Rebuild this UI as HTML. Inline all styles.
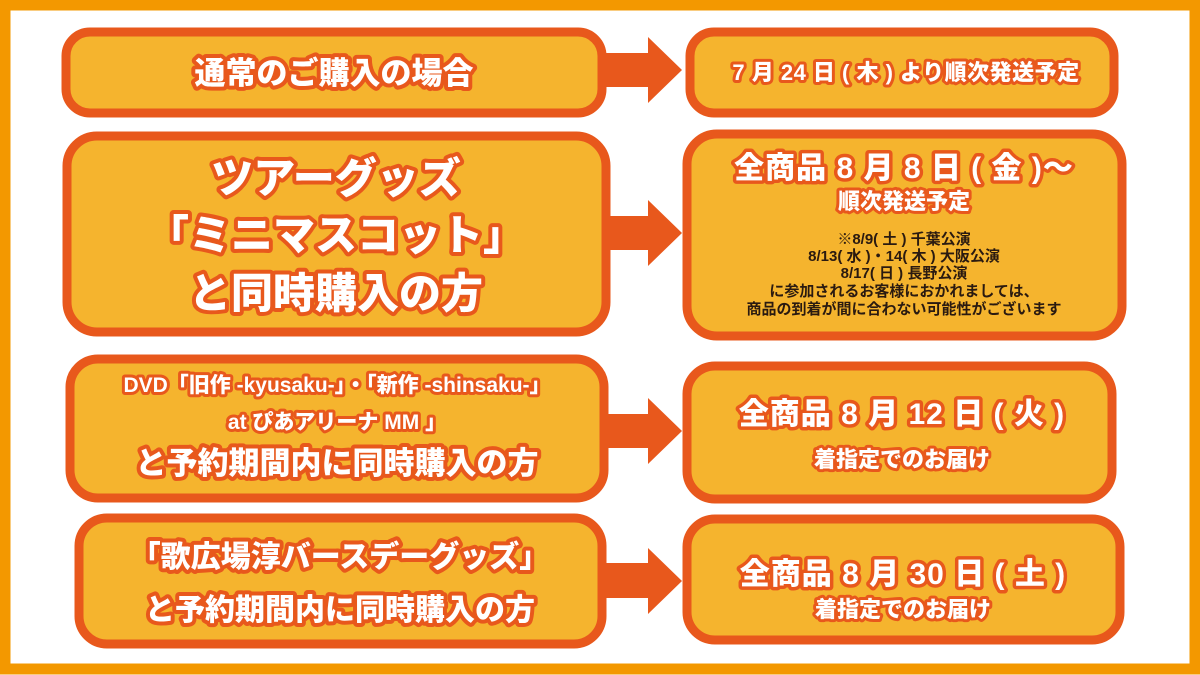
<!DOCTYPE html>
<html><head><meta charset="utf-8"><style>
html,body{margin:0;padding:0;background:#fff}
svg{display:block}
.t{font-family:"Liberation Sans","Noto Sans CJK JP",sans-serif;font-weight:900;fill:#fff;stroke:#E8581C;stroke-linejoin:round;paint-order:stroke;text-anchor:middle}
.s{font-family:"Liberation Sans","Noto Sans CJK JP",sans-serif;font-weight:700;fill:#2a1a10;text-anchor:middle;font-size:15px}
</style></head><body>
<svg width="1200" height="675" viewBox="0 0 1200 675">
<rect x="5" y="5" width="1190" height="664" fill="#fff" stroke="#F39800" stroke-width="11"/>
<g fill="#F5B42E" stroke="#E8581C" stroke-width="9">
<rect x="66" y="32" width="536" height="81" rx="24"/>
<rect x="690" y="32" width="424" height="81" rx="24"/>
<rect x="67" y="136" width="539" height="196" rx="30"/>
<rect x="687" y="134" width="435" height="202" rx="30"/>
<rect x="70" y="359" width="534" height="139" rx="28"/>
<rect x="687" y="366" width="425" height="133" rx="28"/>
<rect x="79" y="518" width="523" height="126" rx="28"/>
<rect x="687" y="519" width="433" height="121" rx="28"/>
</g>
<g fill="#E8581C">
<polygon points="602,53 648,53 648,37 682,70 648,103 648,87 602,87"/>
<polygon points="606,216 648,216 648,200 682,233 648,266 648,250 606,250"/>
<polygon points="604,414 648,414 648,398 682,431 648,464 648,448 604,448"/>
<polygon points="602,563 648,563 648,548 682,581 648,614 648,598 602,598"/>
</g>
<text class="t" x="334" y="84" font-size="31" stroke-width="8">通常のご購入の場合</text>
<text class="t" x="906" y="80" font-size="22" stroke-width="6" letter-spacing="0.5">7 月 24 日 ( 木 ) より順次発送予定</text>
<text class="t" x="336" y="193" font-size="42" stroke-width="8">ツアーグッズ</text>
<text class="t" x="336" y="250" font-size="42" stroke-width="8">「ミニマスコット」</text>
<text class="t" x="336" y="308" font-size="42" stroke-width="8">と同時購入の方</text>
<text class="t" x="904" y="178" font-size="30" stroke-width="7" letter-spacing="1">全商品 8 月 8 日 ( 金 )〜</text>
<text class="t" x="904" y="209" font-size="22" stroke-width="6">順次発送予定</text>
<text class="s" x="904" y="244">※8/9( 土 ) 千葉公演</text>
<text class="s" x="904" y="261">8/13( 水 )・14( 木 ) 大阪公演</text>
<text class="s" x="904" y="278">8/17( 日 ) 長野公演</text>
<text class="s" x="904" y="296">に参加されるお客様におかれましては、</text>
<text class="s" x="904" y="314">商品の到着が間に合わない可能性がございます</text>
<text class="t" x="337" y="392" font-size="21" stroke-width="6">DVD「旧作 -kyusaku-」・「新作 -shinsaku-」</text>
<text class="t" x="337" y="429" font-size="21" stroke-width="6">at ぴあアリーナ MM 」</text>
<text class="t" x="337" y="474" font-size="31" stroke-width="8">と予約期間内に同時購入の方</text>
<text class="t" x="902" y="424" font-size="30" stroke-width="7" letter-spacing="1">全商品 8 月 12 日 ( 火 )</text>
<text class="t" x="902" y="467" font-size="22" stroke-width="6">着指定でのお届け</text>
<text class="t" x="340" y="567" font-size="30" stroke-width="8">「歌広場淳バースデーグッズ」</text>
<text class="t" x="340" y="620" font-size="30" stroke-width="8">と予約期間内に同時購入の方</text>
<text class="t" x="903" y="584" font-size="30" stroke-width="7" letter-spacing="1">全商品 8 月 30 日 ( 土 )</text>
<text class="t" x="903" y="617" font-size="22" stroke-width="6">着指定でのお届け</text>
</svg>
</body></html>
